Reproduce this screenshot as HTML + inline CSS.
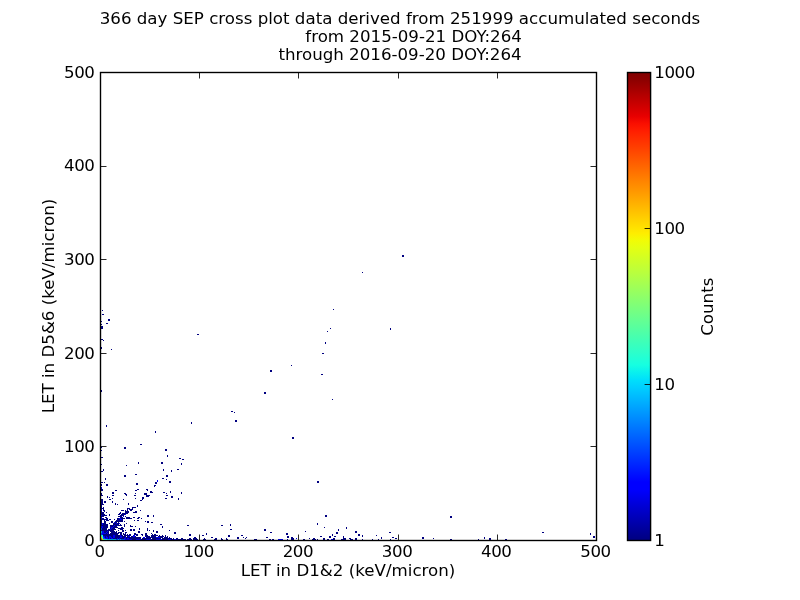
<!DOCTYPE html><html><head><meta charset="utf-8"><title>SEP cross plot</title>
<style>html,body{margin:0;padding:0;background:#fff}svg{display:block}text{font-family:"DejaVu Sans","Liberation Sans",sans-serif;fill:#000}</style></head><body>
<svg width="800" height="600" viewBox="0 0 800 600">
<defs><linearGradient id="jet" x1="0" y1="0" x2="0" y2="1"><stop offset="0.0000" stop-color="#800000"/><stop offset="0.0156" stop-color="#8d0000"/><stop offset="0.0312" stop-color="#9f0000"/><stop offset="0.0469" stop-color="#b20000"/><stop offset="0.0625" stop-color="#c40000"/><stop offset="0.0781" stop-color="#d60000"/><stop offset="0.0938" stop-color="#e80000"/><stop offset="0.1094" stop-color="#fa0f00"/><stop offset="0.1250" stop-color="#ff1e00"/><stop offset="0.1406" stop-color="#ff2d00"/><stop offset="0.1562" stop-color="#ff3b00"/><stop offset="0.1719" stop-color="#ff4a00"/><stop offset="0.1875" stop-color="#ff5900"/><stop offset="0.2031" stop-color="#ff6800"/><stop offset="0.2188" stop-color="#ff7700"/><stop offset="0.2344" stop-color="#ff8600"/><stop offset="0.2500" stop-color="#ff9400"/><stop offset="0.2656" stop-color="#ffa300"/><stop offset="0.2812" stop-color="#ffb200"/><stop offset="0.2969" stop-color="#ffc100"/><stop offset="0.3125" stop-color="#ffd000"/><stop offset="0.3281" stop-color="#ffde00"/><stop offset="0.3438" stop-color="#feed00"/><stop offset="0.3594" stop-color="#f1fc06"/><stop offset="0.3750" stop-color="#e4ff13"/><stop offset="0.3906" stop-color="#d7ff1f"/><stop offset="0.4062" stop-color="#caff2c"/><stop offset="0.4219" stop-color="#beff39"/><stop offset="0.4375" stop-color="#b1ff46"/><stop offset="0.4531" stop-color="#a4ff53"/><stop offset="0.4688" stop-color="#97ff60"/><stop offset="0.4844" stop-color="#8aff6d"/><stop offset="0.5000" stop-color="#7dff7a"/><stop offset="0.5156" stop-color="#70ff87"/><stop offset="0.5312" stop-color="#63ff94"/><stop offset="0.5469" stop-color="#56ffa0"/><stop offset="0.5625" stop-color="#49ffad"/><stop offset="0.5781" stop-color="#3cffba"/><stop offset="0.5938" stop-color="#30ffc7"/><stop offset="0.6094" stop-color="#23ffd4"/><stop offset="0.6250" stop-color="#16ffe1"/><stop offset="0.6406" stop-color="#09f0ee"/><stop offset="0.6562" stop-color="#00e0fb"/><stop offset="0.6719" stop-color="#00d0ff"/><stop offset="0.6875" stop-color="#00c0ff"/><stop offset="0.7031" stop-color="#00b0ff"/><stop offset="0.7188" stop-color="#00a0ff"/><stop offset="0.7344" stop-color="#0090ff"/><stop offset="0.7500" stop-color="#0080ff"/><stop offset="0.7656" stop-color="#0070ff"/><stop offset="0.7812" stop-color="#0060ff"/><stop offset="0.7969" stop-color="#0050ff"/><stop offset="0.8125" stop-color="#0040ff"/><stop offset="0.8281" stop-color="#0030ff"/><stop offset="0.8438" stop-color="#0020ff"/><stop offset="0.8594" stop-color="#0010ff"/><stop offset="0.8750" stop-color="#0000ff"/><stop offset="0.8906" stop-color="#0000ff"/><stop offset="0.9062" stop-color="#0000ed"/><stop offset="0.9219" stop-color="#0000da"/><stop offset="0.9375" stop-color="#0000c8"/><stop offset="0.9531" stop-color="#0000b6"/><stop offset="0.9688" stop-color="#0000a4"/><stop offset="0.9844" stop-color="#000092"/><stop offset="1.0000" stop-color="#000080"/></linearGradient></defs>
<rect x="0" y="0" width="800" height="600" fill="#fff"/>
<g shape-rendering="crispEdges">
<rect x="102" y="310" width="1" height="1" fill="#000080"/>
<rect x="102" y="314" width="2" height="1" fill="#000080"/>
<rect x="108" y="319" width="2" height="2" fill="#000080"/>
<rect x="106" y="323" width="2" height="1" fill="#000080"/>
<rect x="101" y="321" width="1" height="1" fill="#000080"/>
<rect x="101" y="324" width="1" height="1" fill="#000080"/>
<rect x="101" y="326" width="2" height="3" fill="#000080"/>
<rect x="101" y="339" width="2" height="1" fill="#000080"/>
<rect x="103" y="340" width="1" height="1" fill="#000080"/>
<rect x="101" y="347" width="1" height="2" fill="#000080"/>
<rect x="111" y="349" width="1" height="1" fill="#000080"/>
<rect x="197" y="334" width="2" height="1" fill="#000080"/>
<rect x="402" y="255" width="2" height="2" fill="#000080"/>
<rect x="362" y="272" width="1" height="1" fill="#000080"/>
<rect x="333" y="309" width="1" height="1" fill="#000080"/>
<rect x="330" y="328" width="1" height="1" fill="#000080"/>
<rect x="327" y="331" width="1" height="1" fill="#000080"/>
<rect x="390" y="328" width="1" height="2" fill="#000080"/>
<rect x="325" y="342" width="1" height="2" fill="#000080"/>
<rect x="322" y="353" width="2" height="1" fill="#000080"/>
<rect x="321" y="374" width="2" height="1" fill="#000080"/>
<rect x="332" y="399" width="1" height="1" fill="#000080"/>
<rect x="317" y="481" width="2" height="2" fill="#000080"/>
<rect x="325" y="515" width="2" height="2" fill="#000080"/>
<rect x="317" y="523" width="1" height="2" fill="#000080"/>
<rect x="324" y="527" width="1" height="1" fill="#000080"/>
<rect x="305" y="531" width="1" height="1" fill="#000080"/>
<rect x="338" y="529" width="1" height="2" fill="#000080"/>
<rect x="346" y="527" width="1" height="2" fill="#000080"/>
<rect x="336" y="532" width="2" height="2" fill="#000080"/>
<rect x="332" y="534" width="1" height="2" fill="#000080"/>
<rect x="329" y="536" width="2" height="2" fill="#000080"/>
<rect x="334" y="536" width="2" height="1" fill="#000080"/>
<rect x="320" y="536" width="2" height="1" fill="#000080"/>
<rect x="355" y="531" width="2" height="2" fill="#000080"/>
<rect x="358" y="534" width="2" height="2" fill="#000080"/>
<rect x="362" y="535" width="1" height="2" fill="#000080"/>
<rect x="376" y="535" width="1" height="1" fill="#000080"/>
<rect x="381" y="537" width="1" height="2" fill="#000080"/>
<rect x="389" y="532" width="2" height="1" fill="#000080"/>
<rect x="392" y="537" width="2" height="1" fill="#000080"/>
<rect x="395" y="538" width="2" height="1" fill="#000080"/>
<rect x="309" y="538" width="1" height="1" fill="#000080"/>
<rect x="303" y="539" width="2" height="1" fill="#000080"/>
<rect x="313" y="538" width="2" height="2" fill="#000080"/>
<rect x="312" y="539" width="4" height="1" fill="#000080"/>
<rect x="317" y="539" width="1" height="1" fill="#000080"/>
<rect x="323" y="538" width="2" height="2" fill="#000080"/>
<rect x="327" y="539" width="2" height="1" fill="#000080"/>
<rect x="333" y="538" width="2" height="2" fill="#000080"/>
<rect x="343" y="536" width="1" height="3" fill="#000080"/>
<rect x="344" y="538" width="2" height="2" fill="#000080"/>
<rect x="341" y="539" width="5" height="1" fill="#000080"/>
<rect x="349" y="538" width="2" height="1" fill="#000080"/>
<rect x="350" y="539" width="3" height="1" fill="#000080"/>
<rect x="355" y="538" width="2" height="2" fill="#000080"/>
<rect x="362" y="539" width="1" height="1" fill="#000080"/>
<rect x="372" y="539" width="1" height="1" fill="#000080"/>
<rect x="378" y="539" width="1" height="1" fill="#000080"/>
<rect x="390" y="539" width="1" height="1" fill="#000080"/>
<rect x="450" y="516" width="2" height="2" fill="#000080"/>
<rect x="422" y="537" width="2" height="2" fill="#000080"/>
<rect x="433" y="538" width="1" height="1" fill="#000080"/>
<rect x="450" y="539" width="2" height="1" fill="#000080"/>
<rect x="478" y="539" width="1" height="1" fill="#000080"/>
<rect x="484" y="537" width="1" height="2" fill="#000080"/>
<rect x="489" y="538" width="2" height="2" fill="#000080"/>
<rect x="542" y="532" width="2" height="1" fill="#000080"/>
<rect x="590" y="533" width="1" height="2" fill="#000080"/>
<rect x="593" y="536" width="2" height="2" fill="#000080"/>
<rect x="505" y="539" width="2" height="1" fill="#000080"/>
<rect x="291" y="365" width="1" height="1" fill="#000080"/>
<rect x="270" y="370" width="2" height="2" fill="#000080"/>
<rect x="264" y="392" width="2" height="2" fill="#000080"/>
<rect x="231" y="411" width="2" height="1" fill="#000080"/>
<rect x="234" y="412" width="1" height="1" fill="#000080"/>
<rect x="235" y="420" width="2" height="2" fill="#000080"/>
<rect x="292" y="437" width="2" height="2" fill="#000080"/>
<rect x="221" y="525" width="2" height="1" fill="#000080"/>
<rect x="230" y="524" width="1" height="2" fill="#000080"/>
<rect x="230" y="529" width="2" height="1" fill="#000080"/>
<rect x="264" y="529" width="2" height="2" fill="#000080"/>
<rect x="270" y="532" width="2" height="1" fill="#000080"/>
<rect x="206" y="533" width="1" height="2" fill="#000080"/>
<rect x="202" y="535" width="2" height="1" fill="#000080"/>
<rect x="228" y="535" width="2" height="2" fill="#000080"/>
<rect x="241" y="535" width="2" height="1" fill="#000080"/>
<rect x="237" y="537" width="2" height="2" fill="#000080"/>
<rect x="211" y="537" width="2" height="1" fill="#000080"/>
<rect x="286" y="533" width="2" height="2" fill="#000080"/>
<rect x="287" y="536" width="2" height="2" fill="#000080"/>
<rect x="266" y="537" width="2" height="1" fill="#000080"/>
<rect x="243" y="537" width="1" height="1" fill="#000080"/>
<rect x="245" y="538" width="1" height="1" fill="#000080"/>
<rect x="246" y="537" width="1" height="1" fill="#000080"/>
<rect x="203" y="539" width="3" height="1" fill="#000080"/>
<rect x="204" y="538" width="1" height="1" fill="#000080"/>
<rect x="214" y="539" width="3" height="1" fill="#000080"/>
<rect x="215" y="538" width="2" height="1" fill="#000080"/>
<rect x="221" y="538" width="1" height="2" fill="#000080"/>
<rect x="222" y="539" width="1" height="1" fill="#000080"/>
<rect x="226" y="538" width="1" height="2" fill="#000080"/>
<rect x="227" y="539" width="1" height="1" fill="#000080"/>
<rect x="254" y="539" width="3" height="1" fill="#000080"/>
<rect x="269" y="539" width="2" height="1" fill="#000080"/>
<rect x="272" y="539" width="2" height="1" fill="#000080"/>
<rect x="287" y="539" width="1" height="1" fill="#000080"/>
<rect x="291" y="537" width="2" height="3" fill="#000080"/>
<rect x="293" y="538" width="1" height="2" fill="#000080"/>
<rect x="101" y="390" width="1" height="2" fill="#000080"/>
<rect x="106" y="425" width="1" height="2" fill="#000080"/>
<rect x="155" y="431" width="1" height="2" fill="#000080"/>
<rect x="191" y="422" width="1" height="2" fill="#000080"/>
<rect x="140" y="444" width="2" height="1" fill="#000080"/>
<rect x="124" y="447" width="2" height="2" fill="#000080"/>
<rect x="165" y="449" width="2" height="2" fill="#000080"/>
<rect x="167" y="455" width="1" height="2" fill="#000080"/>
<rect x="179" y="458" width="2" height="1" fill="#000080"/>
<rect x="182" y="459" width="2" height="1" fill="#000080"/>
<rect x="138" y="462" width="1" height="2" fill="#000080"/>
<rect x="126" y="465" width="1" height="1" fill="#000080"/>
<rect x="161" y="462" width="2" height="2" fill="#000080"/>
<rect x="181" y="463" width="1" height="2" fill="#000080"/>
<rect x="163" y="469" width="1" height="2" fill="#000080"/>
<rect x="171" y="470" width="1" height="2" fill="#000080"/>
<rect x="177" y="469" width="2" height="1" fill="#000080"/>
<rect x="124" y="475" width="2" height="2" fill="#000080"/>
<rect x="135" y="474" width="2" height="1" fill="#000080"/>
<rect x="166" y="475" width="2" height="2" fill="#000080"/>
<rect x="162" y="478" width="2" height="1" fill="#000080"/>
<rect x="166" y="479" width="1" height="1" fill="#000080"/>
<rect x="155" y="482" width="2" height="2" fill="#000080"/>
<rect x="169" y="481" width="2" height="2" fill="#000080"/>
<rect x="136" y="483" width="2" height="2" fill="#000080"/>
<rect x="105" y="478" width="1" height="2" fill="#000080"/>
<rect x="106" y="484" width="2" height="2" fill="#000080"/>
<rect x="104" y="482" width="1" height="1" fill="#000080"/>
<rect x="101" y="482" width="2" height="1" fill="#000080"/>
<rect x="103" y="469" width="1" height="2" fill="#000080"/>
<rect x="101" y="471" width="2" height="1" fill="#000080"/>
<rect x="101" y="464" width="1" height="1" fill="#000080"/>
<rect x="101" y="457" width="2" height="1" fill="#000080"/>
<rect x="101" y="450" width="1" height="1" fill="#000080"/>
<rect x="101" y="447" width="1" height="1" fill="#000080"/>
<rect x="101" y="484" width="1" height="2" fill="#000080"/>
<rect x="101" y="489" width="2" height="2" fill="#000080"/>
<rect x="115" y="490" width="2" height="1" fill="#000080"/>
<rect x="135" y="490" width="2" height="1" fill="#000080"/>
<rect x="137" y="489" width="2" height="1" fill="#000080"/>
<rect x="146" y="489" width="2" height="1" fill="#000080"/>
<rect x="147" y="490" width="1" height="1" fill="#000080"/>
<rect x="112" y="492" width="2" height="2" fill="#000080"/>
<rect x="112" y="495" width="2" height="1" fill="#000080"/>
<rect x="124" y="493" width="2" height="1" fill="#000080"/>
<rect x="125" y="494" width="2" height="1" fill="#000080"/>
<rect x="126" y="495" width="1" height="1" fill="#000080"/>
<rect x="135" y="493" width="1" height="1" fill="#000080"/>
<rect x="134" y="495" width="2" height="1" fill="#000080"/>
<rect x="135" y="498" width="1" height="1" fill="#000080"/>
<rect x="144" y="493" width="3" height="2" fill="#000080"/>
<rect x="146" y="495" width="4" height="1" fill="#000080"/>
<rect x="146" y="496" width="3" height="1" fill="#000080"/>
<rect x="142" y="497" width="2" height="2" fill="#000080"/>
<rect x="142" y="499" width="1" height="1" fill="#000080"/>
<rect x="140" y="500" width="2" height="1" fill="#000080"/>
<rect x="107" y="496" width="1" height="2" fill="#000080"/>
<rect x="109" y="497" width="1" height="1" fill="#000080"/>
<rect x="112" y="498" width="1" height="1" fill="#000080"/>
<rect x="109" y="499" width="2" height="1" fill="#000080"/>
<rect x="123" y="499" width="1" height="1" fill="#000080"/>
<rect x="101" y="493" width="1" height="2" fill="#000080"/>
<rect x="101" y="495" width="2" height="1" fill="#000080"/>
<rect x="101" y="499" width="2" height="2" fill="#000080"/>
<rect x="104" y="501" width="2" height="2" fill="#000080"/>
<rect x="112" y="501" width="1" height="2" fill="#000080"/>
<rect x="101" y="501" width="2" height="1" fill="#000080"/>
<rect x="154" y="485" width="2" height="1" fill="#000080"/>
<rect x="154" y="486" width="1" height="1" fill="#000080"/>
<rect x="150" y="491" width="2" height="2" fill="#000080"/>
<rect x="152" y="492" width="1" height="1" fill="#000080"/>
<rect x="163" y="492" width="2" height="1" fill="#000080"/>
<rect x="166" y="493" width="1" height="1" fill="#000080"/>
<rect x="170" y="491" width="1" height="2" fill="#000080"/>
<rect x="181" y="492" width="1" height="2" fill="#000080"/>
<rect x="166" y="495" width="2" height="1" fill="#000080"/>
<rect x="171" y="496" width="2" height="2" fill="#000080"/>
<rect x="165" y="498" width="2" height="1" fill="#000080"/>
<rect x="178" y="498" width="1" height="2" fill="#000080"/>
<rect x="162" y="526" width="1" height="2" fill="#000080"/>
<rect x="187" y="525" width="2" height="1" fill="#000080"/>
<rect x="169" y="530" width="1" height="1" fill="#000080"/>
<rect x="174" y="532" width="2" height="2" fill="#000080"/>
<rect x="189" y="534" width="2" height="2" fill="#000080"/>
<rect x="157" y="480" width="1" height="2" fill="#0000f1"/>
<rect x="331" y="539" width="2" height="1" fill="#0000f1"/>
<rect x="278" y="539" width="5" height="1" fill="#0000f1"/>
<rect x="296" y="538" width="1" height="1" fill="#0000f1"/>
<rect x="101" y="487" width="1" height="2" fill="#0000f1"/>
<rect x="101" y="502" width="2" height="1" fill="#000080"/>
<rect x="104" y="502" width="2" height="1" fill="#000080"/>
<rect x="112" y="502" width="1" height="1" fill="#000080"/>
<rect x="101" y="503" width="2" height="1" fill="#000080"/>
<rect x="115" y="503" width="1" height="1" fill="#000080"/>
<rect x="128" y="503" width="1" height="1" fill="#000080"/>
<rect x="101" y="504" width="3" height="1" fill="#000080"/>
<rect x="115" y="504" width="1" height="1" fill="#000080"/>
<rect x="117" y="504" width="1" height="1" fill="#000080"/>
<rect x="128" y="504" width="1" height="1" fill="#000080"/>
<rect x="101" y="505" width="1" height="1" fill="#000080"/>
<rect x="137" y="505" width="1" height="1" fill="#000080"/>
<rect x="101" y="506" width="1" height="1" fill="#000080"/>
<rect x="137" y="506" width="1" height="1" fill="#000080"/>
<rect x="101" y="507" width="1" height="1" fill="#000080"/>
<rect x="103" y="507" width="1" height="1" fill="#000080"/>
<rect x="132" y="507" width="4" height="1" fill="#000080"/>
<rect x="101" y="508" width="3" height="1" fill="#000080"/>
<rect x="127" y="508" width="3" height="1" fill="#000080"/>
<rect x="132" y="508" width="1" height="1" fill="#000080"/>
<rect x="101" y="509" width="1" height="1" fill="#000080"/>
<rect x="103" y="509" width="1" height="1" fill="#000080"/>
<rect x="127" y="509" width="1" height="1" fill="#000080"/>
<rect x="129" y="509" width="4" height="1" fill="#000080"/>
<rect x="101" y="510" width="1" height="1" fill="#0000f1"/>
<rect x="103" y="510" width="2" height="1" fill="#000080"/>
<rect x="121" y="510" width="3" height="1" fill="#000080"/>
<rect x="125" y="510" width="1" height="1" fill="#000080"/>
<rect x="127" y="510" width="1" height="1" fill="#000080"/>
<rect x="130" y="510" width="2" height="1" fill="#000080"/>
<rect x="140" y="510" width="1" height="1" fill="#000080"/>
<rect x="101" y="511" width="1" height="1" fill="#000080"/>
<rect x="104" y="511" width="1" height="1" fill="#000080"/>
<rect x="125" y="511" width="4" height="1" fill="#000080"/>
<rect x="135" y="511" width="2" height="1" fill="#000080"/>
<rect x="101" y="512" width="3" height="1" fill="#000080"/>
<rect x="106" y="512" width="1" height="1" fill="#000080"/>
<rect x="120" y="512" width="1" height="1" fill="#000080"/>
<rect x="125" y="512" width="4" height="1" fill="#000080"/>
<rect x="133" y="512" width="4" height="1" fill="#000080"/>
<rect x="101" y="513" width="3" height="1" fill="#000080"/>
<rect x="119" y="513" width="2" height="1" fill="#000080"/>
<rect x="122" y="513" width="6" height="1" fill="#000080"/>
<rect x="101" y="514" width="4" height="1" fill="#000080"/>
<rect x="109" y="514" width="1" height="1" fill="#000080"/>
<rect x="118" y="514" width="2" height="1" fill="#000080"/>
<rect x="121" y="514" width="4" height="1" fill="#000080"/>
<rect x="125" y="514" width="1" height="1" fill="#0000f1"/>
<rect x="101" y="515" width="1" height="1" fill="#0000f1"/>
<rect x="102" y="515" width="5" height="1" fill="#000080"/>
<rect x="109" y="515" width="1" height="1" fill="#000080"/>
<rect x="120" y="515" width="4" height="1" fill="#000080"/>
<rect x="147" y="515" width="2" height="1" fill="#000080"/>
<rect x="153" y="515" width="1" height="1" fill="#000080"/>
<rect x="101" y="516" width="3" height="1" fill="#000080"/>
<rect x="118" y="516" width="4" height="1" fill="#000080"/>
<rect x="123" y="516" width="1" height="1" fill="#0000f1"/>
<rect x="125" y="516" width="1" height="1" fill="#000080"/>
<rect x="147" y="516" width="2" height="1" fill="#000080"/>
<rect x="153" y="516" width="1" height="1" fill="#000080"/>
<rect x="101" y="517" width="1" height="1" fill="#0000f1"/>
<rect x="105" y="517" width="2" height="1" fill="#000080"/>
<rect x="120" y="517" width="3" height="1" fill="#000080"/>
<rect x="126" y="517" width="4" height="1" fill="#000080"/>
<rect x="133" y="517" width="2" height="1" fill="#000080"/>
<rect x="138" y="517" width="2" height="1" fill="#000080"/>
<rect x="101" y="518" width="1" height="1" fill="#0000f1"/>
<rect x="102" y="518" width="2" height="1" fill="#000080"/>
<rect x="106" y="518" width="2" height="1" fill="#000080"/>
<rect x="117" y="518" width="2" height="1" fill="#000080"/>
<rect x="119" y="518" width="2" height="1" fill="#0000f1"/>
<rect x="121" y="518" width="4" height="1" fill="#000080"/>
<rect x="126" y="518" width="6" height="1" fill="#000080"/>
<rect x="137" y="518" width="2" height="1" fill="#000080"/>
<rect x="141" y="518" width="1" height="1" fill="#000080"/>
<rect x="101" y="519" width="7" height="1" fill="#000080"/>
<rect x="109" y="519" width="2" height="1" fill="#000080"/>
<rect x="114" y="519" width="1" height="1" fill="#000080"/>
<rect x="117" y="519" width="3" height="1" fill="#000080"/>
<rect x="120" y="519" width="2" height="1" fill="#0000f1"/>
<rect x="122" y="519" width="1" height="1" fill="#000080"/>
<rect x="101" y="520" width="1" height="1" fill="#000080"/>
<rect x="104" y="520" width="1" height="1" fill="#000080"/>
<rect x="106" y="520" width="3" height="1" fill="#000080"/>
<rect x="116" y="520" width="7" height="1" fill="#000080"/>
<rect x="134" y="520" width="1" height="1" fill="#000080"/>
<rect x="137" y="520" width="2" height="1" fill="#000080"/>
<rect x="101" y="521" width="1" height="1" fill="#000080"/>
<rect x="104" y="521" width="2" height="1" fill="#000080"/>
<rect x="111" y="521" width="2" height="1" fill="#000080"/>
<rect x="115" y="521" width="1" height="1" fill="#000080"/>
<rect x="116" y="521" width="7" height="1" fill="#000080"/>
<rect x="124" y="521" width="1" height="1" fill="#000080"/>
<rect x="145" y="521" width="1" height="1" fill="#000080"/>
<rect x="147" y="521" width="2" height="1" fill="#000080"/>
<rect x="101" y="522" width="1" height="1" fill="#000080"/>
<rect x="104" y="522" width="2" height="1" fill="#000080"/>
<rect x="111" y="522" width="2" height="1" fill="#000080"/>
<rect x="114" y="522" width="1" height="1" fill="#0000f1"/>
<rect x="115" y="522" width="1" height="1" fill="#000080"/>
<rect x="116" y="522" width="1" height="1" fill="#000080"/>
<rect x="118" y="522" width="1" height="1" fill="#000080"/>
<rect x="147" y="522" width="2" height="1" fill="#000080"/>
<rect x="151" y="522" width="2" height="1" fill="#000080"/>
<rect x="101" y="523" width="1" height="1" fill="#000080"/>
<rect x="102" y="523" width="1" height="1" fill="#0000f1"/>
<rect x="103" y="523" width="3" height="1" fill="#000080"/>
<rect x="109" y="523" width="1" height="1" fill="#000080"/>
<rect x="113" y="523" width="3" height="1" fill="#000080"/>
<rect x="116" y="523" width="1" height="1" fill="#0000f1"/>
<rect x="117" y="523" width="2" height="1" fill="#000080"/>
<rect x="119" y="523" width="1" height="1" fill="#0000f1"/>
<rect x="126" y="523" width="1" height="1" fill="#000080"/>
<rect x="101" y="524" width="1" height="1" fill="#000080"/>
<rect x="102" y="524" width="1" height="1" fill="#0000f1"/>
<rect x="103" y="524" width="5" height="1" fill="#000080"/>
<rect x="113" y="524" width="6" height="1" fill="#000080"/>
<rect x="120" y="524" width="1" height="1" fill="#000080"/>
<rect x="124" y="524" width="1" height="1" fill="#000080"/>
<rect x="160" y="524" width="2" height="1" fill="#000080"/>
<rect x="101" y="525" width="7" height="1" fill="#000080"/>
<rect x="110" y="525" width="4" height="1" fill="#000080"/>
<rect x="114" y="525" width="1" height="1" fill="#0000f1"/>
<rect x="115" y="525" width="2" height="1" fill="#000080"/>
<rect x="117" y="525" width="1" height="1" fill="#0000f1"/>
<rect x="118" y="525" width="4" height="1" fill="#000080"/>
<rect x="124" y="525" width="1" height="1" fill="#000080"/>
<rect x="130" y="525" width="1" height="1" fill="#000080"/>
<rect x="101" y="526" width="2" height="1" fill="#0000f1"/>
<rect x="103" y="526" width="5" height="1" fill="#000080"/>
<rect x="110" y="526" width="3" height="1" fill="#000080"/>
<rect x="113" y="526" width="1" height="1" fill="#0000f1"/>
<rect x="114" y="526" width="3" height="1" fill="#000080"/>
<rect x="124" y="526" width="1" height="1" fill="#000080"/>
<rect x="130" y="526" width="3" height="1" fill="#000080"/>
<rect x="135" y="526" width="1" height="1" fill="#000080"/>
<rect x="101" y="527" width="2" height="1" fill="#0000f1"/>
<rect x="103" y="527" width="5" height="1" fill="#000080"/>
<rect x="110" y="527" width="1" height="1" fill="#000080"/>
<rect x="111" y="527" width="2" height="1" fill="#0000f1"/>
<rect x="113" y="527" width="5" height="1" fill="#000080"/>
<rect x="121" y="527" width="2" height="1" fill="#000080"/>
<rect x="101" y="528" width="1" height="1" fill="#004cff"/>
<rect x="102" y="528" width="5" height="1" fill="#000080"/>
<rect x="110" y="528" width="1" height="1" fill="#000080"/>
<rect x="111" y="528" width="1" height="1" fill="#0000f1"/>
<rect x="112" y="528" width="3" height="1" fill="#000080"/>
<rect x="118" y="528" width="6" height="1" fill="#000080"/>
<rect x="139" y="528" width="1" height="1" fill="#000080"/>
<rect x="147" y="528" width="1" height="1" fill="#000080"/>
<rect x="101" y="529" width="1" height="1" fill="#004cff"/>
<rect x="102" y="529" width="5" height="1" fill="#000080"/>
<rect x="108" y="529" width="2" height="1" fill="#000080"/>
<rect x="110" y="529" width="1" height="1" fill="#0000f1"/>
<rect x="111" y="529" width="5" height="1" fill="#000080"/>
<rect x="120" y="529" width="3" height="1" fill="#000080"/>
<rect x="130" y="529" width="2" height="1" fill="#000080"/>
<rect x="133" y="529" width="2" height="1" fill="#000080"/>
<rect x="139" y="529" width="1" height="1" fill="#000080"/>
<rect x="147" y="529" width="1" height="1" fill="#000080"/>
<rect x="101" y="530" width="13" height="1" fill="#000080"/>
<rect x="118" y="530" width="1" height="1" fill="#000080"/>
<rect x="122" y="530" width="2" height="1" fill="#000080"/>
<rect x="125" y="530" width="1" height="1" fill="#000080"/>
<rect x="130" y="530" width="2" height="1" fill="#000080"/>
<rect x="133" y="530" width="2" height="1" fill="#000080"/>
<rect x="147" y="530" width="1" height="1" fill="#000080"/>
<rect x="149" y="530" width="1" height="1" fill="#000080"/>
<rect x="153" y="530" width="1" height="1" fill="#000080"/>
<rect x="101" y="531" width="1" height="1" fill="#00c4ff"/>
<rect x="102" y="531" width="2" height="1" fill="#0000f1"/>
<rect x="104" y="531" width="3" height="1" fill="#000080"/>
<rect x="107" y="531" width="1" height="1" fill="#0000f1"/>
<rect x="108" y="531" width="1" height="1" fill="#000080"/>
<rect x="110" y="531" width="5" height="1" fill="#000080"/>
<rect x="116" y="531" width="1" height="1" fill="#000080"/>
<rect x="122" y="531" width="2" height="1" fill="#000080"/>
<rect x="138" y="531" width="2" height="1" fill="#000080"/>
<rect x="153" y="531" width="1" height="1" fill="#000080"/>
<rect x="156" y="531" width="2" height="1" fill="#000080"/>
<rect x="101" y="532" width="1" height="1" fill="#00c4ff"/>
<rect x="102" y="532" width="2" height="1" fill="#0000f1"/>
<rect x="104" y="532" width="2" height="1" fill="#000080"/>
<rect x="106" y="532" width="1" height="1" fill="#0000f1"/>
<rect x="107" y="532" width="2" height="1" fill="#000080"/>
<rect x="111" y="532" width="6" height="1" fill="#000080"/>
<rect x="118" y="532" width="4" height="1" fill="#000080"/>
<rect x="125" y="532" width="2" height="1" fill="#000080"/>
<rect x="138" y="532" width="2" height="1" fill="#000080"/>
<rect x="156" y="532" width="2" height="1" fill="#000080"/>
<rect x="101" y="533" width="1" height="1" fill="#004cff"/>
<rect x="102" y="533" width="4" height="1" fill="#0000f1"/>
<rect x="106" y="533" width="1" height="1" fill="#000080"/>
<rect x="107" y="533" width="1" height="1" fill="#0000f1"/>
<rect x="108" y="533" width="1" height="1" fill="#000080"/>
<rect x="110" y="533" width="9" height="1" fill="#000080"/>
<rect x="120" y="533" width="2" height="1" fill="#000080"/>
<rect x="123" y="533" width="1" height="1" fill="#000080"/>
<rect x="125" y="533" width="1" height="1" fill="#000080"/>
<rect x="134" y="533" width="2" height="1" fill="#000080"/>
<rect x="145" y="533" width="2" height="1" fill="#000080"/>
<rect x="151" y="533" width="1" height="1" fill="#000080"/>
<rect x="101" y="534" width="1" height="1" fill="#004cff"/>
<rect x="102" y="534" width="1" height="1" fill="#0000f1"/>
<rect x="103" y="534" width="15" height="1" fill="#000080"/>
<rect x="120" y="534" width="2" height="1" fill="#000080"/>
<rect x="123" y="534" width="3" height="1" fill="#000080"/>
<rect x="127" y="534" width="1" height="1" fill="#000080"/>
<rect x="129" y="534" width="2" height="1" fill="#000080"/>
<rect x="134" y="534" width="4" height="1" fill="#000080"/>
<rect x="141" y="534" width="2" height="1" fill="#000080"/>
<rect x="145" y="534" width="2" height="1" fill="#000080"/>
<rect x="152" y="534" width="1" height="1" fill="#000080"/>
<rect x="154" y="534" width="2" height="1" fill="#000080"/>
<rect x="101" y="535" width="2" height="1" fill="#19ffde"/>
<rect x="103" y="535" width="10" height="1" fill="#000080"/>
<rect x="113" y="535" width="2" height="1" fill="#0000f1"/>
<rect x="115" y="535" width="5" height="1" fill="#000080"/>
<rect x="120" y="535" width="1" height="1" fill="#0000f1"/>
<rect x="121" y="535" width="2" height="1" fill="#000080"/>
<rect x="124" y="535" width="7" height="1" fill="#000080"/>
<rect x="133" y="535" width="2" height="1" fill="#0000f1"/>
<rect x="136" y="535" width="2" height="1" fill="#000080"/>
<rect x="142" y="535" width="1" height="1" fill="#000080"/>
<rect x="145" y="535" width="3" height="1" fill="#000080"/>
<rect x="151" y="535" width="7" height="1" fill="#000080"/>
<rect x="159" y="535" width="1" height="1" fill="#000080"/>
<rect x="162" y="535" width="1" height="1" fill="#000080"/>
<rect x="165" y="535" width="1" height="1" fill="#000080"/>
<rect x="101" y="536" width="1" height="1" fill="#7dff7a"/>
<rect x="102" y="536" width="1" height="1" fill="#19ffde"/>
<rect x="103" y="536" width="2" height="1" fill="#0000f1"/>
<rect x="105" y="536" width="1" height="1" fill="#000080"/>
<rect x="106" y="536" width="1" height="1" fill="#0000f1"/>
<rect x="107" y="536" width="2" height="1" fill="#000080"/>
<rect x="109" y="536" width="2" height="1" fill="#0000f1"/>
<rect x="111" y="536" width="2" height="1" fill="#000080"/>
<rect x="113" y="536" width="2" height="1" fill="#0000f1"/>
<rect x="115" y="536" width="5" height="1" fill="#000080"/>
<rect x="120" y="536" width="2" height="1" fill="#0000f1"/>
<rect x="122" y="536" width="4" height="1" fill="#000080"/>
<rect x="127" y="536" width="1" height="1" fill="#000080"/>
<rect x="128" y="536" width="2" height="1" fill="#0000f1"/>
<rect x="131" y="536" width="2" height="1" fill="#000080"/>
<rect x="133" y="536" width="2" height="1" fill="#0000f1"/>
<rect x="135" y="536" width="1" height="1" fill="#000080"/>
<rect x="145" y="536" width="5" height="1" fill="#000080"/>
<rect x="151" y="536" width="5" height="1" fill="#000080"/>
<rect x="158" y="536" width="6" height="1" fill="#000080"/>
<rect x="165" y="536" width="1" height="1" fill="#000080"/>
<rect x="167" y="536" width="1" height="1" fill="#000080"/>
<rect x="101" y="537" width="1" height="1" fill="#feed00"/>
<rect x="102" y="537" width="1" height="1" fill="#19ffde"/>
<rect x="103" y="537" width="1" height="1" fill="#004cff"/>
<rect x="104" y="537" width="1" height="1" fill="#0000f1"/>
<rect x="105" y="537" width="1" height="1" fill="#000080"/>
<rect x="106" y="537" width="2" height="1" fill="#0000f1"/>
<rect x="108" y="537" width="1" height="1" fill="#000080"/>
<rect x="109" y="537" width="3" height="1" fill="#0000f1"/>
<rect x="112" y="537" width="1" height="1" fill="#000080"/>
<rect x="113" y="537" width="2" height="1" fill="#0000f1"/>
<rect x="115" y="537" width="5" height="1" fill="#000080"/>
<rect x="120" y="537" width="2" height="1" fill="#0000f1"/>
<rect x="122" y="537" width="3" height="1" fill="#000080"/>
<rect x="125" y="537" width="1" height="1" fill="#0000f1"/>
<rect x="126" y="537" width="15" height="1" fill="#000080"/>
<rect x="143" y="537" width="2" height="1" fill="#0000f1"/>
<rect x="146" y="537" width="10" height="1" fill="#000080"/>
<rect x="156" y="537" width="4" height="1" fill="#0000f1"/>
<rect x="160" y="537" width="3" height="1" fill="#000080"/>
<rect x="164" y="537" width="4" height="1" fill="#000080"/>
<rect x="169" y="537" width="1" height="1" fill="#000080"/>
<rect x="194" y="537" width="2" height="1" fill="#000080"/>
<rect x="101" y="538" width="1" height="1" fill="#ff9400"/>
<rect x="102" y="538" width="1" height="1" fill="#7dff7a"/>
<rect x="103" y="538" width="2" height="1" fill="#004cff"/>
<rect x="105" y="538" width="3" height="1" fill="#0000f1"/>
<rect x="108" y="538" width="1" height="1" fill="#000080"/>
<rect x="109" y="538" width="1" height="1" fill="#0000f1"/>
<rect x="110" y="538" width="1" height="1" fill="#000080"/>
<rect x="111" y="538" width="2" height="1" fill="#0000f1"/>
<rect x="113" y="538" width="4" height="1" fill="#000080"/>
<rect x="117" y="538" width="1" height="1" fill="#0000f1"/>
<rect x="118" y="538" width="1" height="1" fill="#000080"/>
<rect x="119" y="538" width="1" height="1" fill="#0000f1"/>
<rect x="120" y="538" width="4" height="1" fill="#000080"/>
<rect x="124" y="538" width="2" height="1" fill="#0000f1"/>
<rect x="126" y="538" width="1" height="1" fill="#000080"/>
<rect x="127" y="538" width="2" height="1" fill="#0000f1"/>
<rect x="129" y="538" width="12" height="1" fill="#000080"/>
<rect x="142" y="538" width="9" height="1" fill="#000080"/>
<rect x="152" y="538" width="9" height="1" fill="#000080"/>
<rect x="162" y="538" width="10" height="1" fill="#000080"/>
<rect x="173" y="538" width="1" height="1" fill="#000080"/>
<rect x="176" y="538" width="2" height="1" fill="#000080"/>
<rect x="181" y="538" width="2" height="1" fill="#000080"/>
<rect x="189" y="538" width="2" height="1" fill="#000080"/>
<rect x="193" y="538" width="4" height="1" fill="#000080"/>
<rect x="101" y="539" width="1" height="1" fill="#ff5500"/>
<rect x="102" y="539" width="1" height="1" fill="#feed00"/>
<rect x="103" y="539" width="1" height="1" fill="#7dff7a"/>
<rect x="104" y="539" width="3" height="1" fill="#19ffde"/>
<rect x="107" y="539" width="6" height="1" fill="#00c4ff"/>
<rect x="113" y="539" width="3" height="1" fill="#00c4ff"/>
<rect x="116" y="539" width="2" height="1" fill="#004cff"/>
<rect x="118" y="539" width="1" height="1" fill="#00c4ff"/>
<rect x="119" y="539" width="1" height="1" fill="#004cff"/>
<rect x="120" y="539" width="1" height="1" fill="#00c4ff"/>
<rect x="121" y="539" width="4" height="1" fill="#004cff"/>
<rect x="125" y="539" width="7" height="1" fill="#0000f1"/>
<rect x="132" y="539" width="4" height="1" fill="#000080"/>
<rect x="136" y="539" width="5" height="1" fill="#0000f1"/>
<rect x="141" y="539" width="5" height="1" fill="#000080"/>
<rect x="146" y="539" width="5" height="1" fill="#0000f1"/>
<rect x="151" y="539" width="5" height="1" fill="#000080"/>
<rect x="156" y="539" width="6" height="1" fill="#0000f1"/>
<rect x="162" y="539" width="6" height="1" fill="#000080"/>
<rect x="168" y="539" width="3" height="1" fill="#0000f1"/>
<rect x="171" y="539" width="3" height="1" fill="#000080"/>
<rect x="174" y="539" width="2" height="1" fill="#0000f1"/>
<rect x="176" y="539" width="8" height="1" fill="#000080"/>
<rect x="184" y="539" width="2" height="1" fill="#000080"/>
<rect x="187" y="539" width="5" height="1" fill="#000080"/>
<rect x="193" y="539" width="5" height="1" fill="#000080"/>
</g>
<rect x="627.5" y="72.5" width="23.1" height="468" fill="url(#jet)" stroke="#000" stroke-width="1.39"/>
<rect x="100.5" y="72.5" width="496" height="468" fill="none" stroke="#000" stroke-width="1.39"/>
<path d="M100.5 540.5v-6M100.5 72.5v6M100.5 540.5h6M596.5 540.5h-6M199.5 540.5v-6M199.5 72.5v6M100.5 446.5h6M596.5 446.5h-6M298.5 540.5v-6M298.5 72.5v6M100.5 353.5h6M596.5 353.5h-6M398.5 540.5v-6M398.5 72.5v6M100.5 259.5h6M596.5 259.5h-6M497.5 540.5v-6M497.5 72.5v6M100.5 166.5h6M596.5 166.5h-6M596.5 540.5v-6M596.5 72.5v6M100.5 72.5h6M596.5 72.5h-6M650.6 540.5h-6M650.6 384.5h-6M650.6 228.5h-6M650.6 72.5h-6" stroke="#000" stroke-width="0.85" fill="none"/>
<g font-size="16.67">
<g letter-spacing="-0.45">
<text x="99.5" y="556.5" text-anchor="middle">0</text>
<text x="94.5" y="545.7" text-anchor="end">0</text>
<text x="198.7" y="556.5" text-anchor="middle">100</text>
<text x="94.5" y="452.1" text-anchor="end">100</text>
<text x="297.9" y="556.5" text-anchor="middle">200</text>
<text x="94.5" y="358.5" text-anchor="end">200</text>
<text x="397.1" y="556.5" text-anchor="middle">300</text>
<text x="94.5" y="264.9" text-anchor="end">300</text>
<text x="496.3" y="556.5" text-anchor="middle">400</text>
<text x="94.5" y="171.3" text-anchor="end">400</text>
<text x="595.5" y="556.5" text-anchor="middle">500</text>
<text x="94.5" y="77.7" text-anchor="end">500</text>
<text x="654.3" y="545.7">1</text>
<text x="654.3" y="389.7">10</text>
<text x="654.3" y="233.7">100</text>
<text x="654.3" y="77.7">1000</text>
</g>
<text x="400" y="23.5" text-anchor="middle">366 day SEP cross plot data derived from 251999 accumulated seconds</text>
<text x="413.6" y="41.5" text-anchor="middle">from 2015-09-21 DOY:264</text>
<text x="400" y="59.5" text-anchor="middle">through 2016-09-20 DOY:264</text>
<text x="348" y="576" text-anchor="middle">LET in D1&amp;2 (keV/micron)</text>
<text transform="translate(54 306) rotate(-90)" text-anchor="middle">LET in D5&amp;6 (keV/micron)</text>
<text transform="translate(712.7 306.7) rotate(-90)" text-anchor="middle">Counts</text>
</g>
</svg></body></html>
